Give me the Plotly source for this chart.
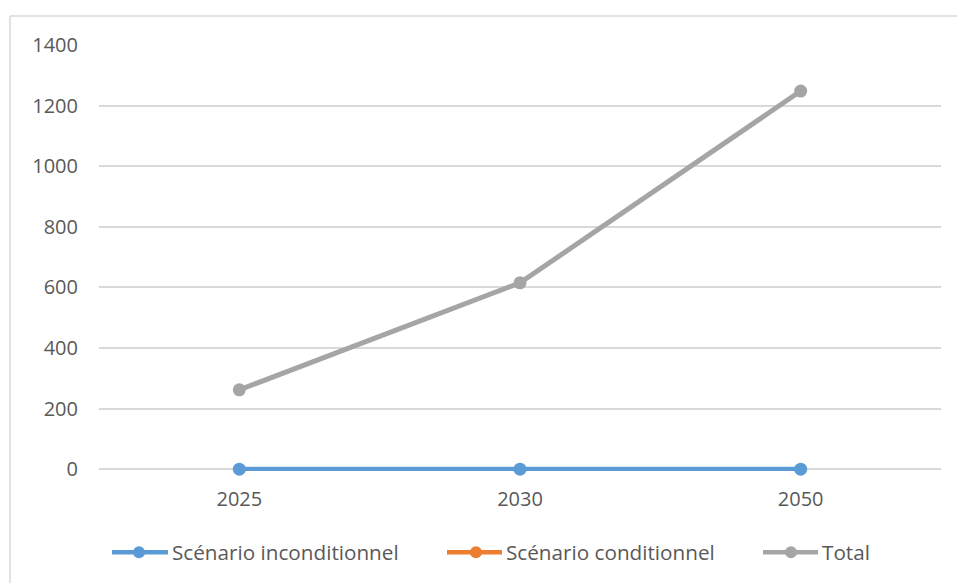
import plotly.graph_objects as go

years = ["2025", "2030", "2050"]
inconditionnel = [0, 0, 0]
conditionnel = [None, None, None]
total = [262, 615, 1248]
y_ticks = [0, 200, 400, 600, 800, 1000, 1200, 1400]

series_names = ["Scénario inconditionnel", "Scénario conditionnel", "Total"]
series_colors = ["#5B9BD5", "#ED7D31", "#A5A5A5"]
series_values = [inconditionnel, conditionnel, total]

font_family = "Open Sans, Noto Sans, sans-serif"
text_color = "#595959"

W, H = 957, 583
y_min, y_max = -6, 1400
left, right, top, y0_px = 99, 941, 45, 469
px_per_unit = (y0_px - top) / y_max
bottom = y0_px + (-y_min) * px_per_unit
pw, ph = right - left, bottom - top


def px_x(x):
    return (x - left) / pw


def px_y(y):
    return (bottom - y) / ph


fig = go.Figure()
for name, vals, color in zip(series_names, series_values, series_colors):
    fig.add_trace(go.Scatter(
        x=years, y=vals, name=name, mode="lines+markers",
        line=dict(color=color, width=5),
        marker=dict(color=color, size=13),
        cliponaxis=False, showlegend=False,
    ))

fig.update_layout(
    width=W, height=H,
    margin=dict(l=left, r=W - right, t=top, b=H - bottom),
    paper_bgcolor="white", plot_bgcolor="white",
    font=dict(family=font_family, size=20, color=text_color),
    showlegend=False,
    xaxis=dict(
        type="category", range=[-0.5, 2.5], showgrid=False, zeroline=False,
        showline=False, ticks="", tickfont=dict(size=20),
        ticklabelstandoff=14,
    ),
    yaxis=dict(
        range=[y_min, y_max], tickvals=y_ticks, showgrid=True,
        gridcolor="#D9D9D9", gridwidth=1.5, zeroline=False,
        showline=False, ticks="", tickfont=dict(size=20),
        ticklabelstandoff=20,
    ),
)

# legend row below the plot: line-with-marker key followed by its label
legend_y = 552
legend_keys = [(112, 168, 139), (447, 502, 476), (763, 818, 791)]
for (x0, x1, xc), name, color in zip(legend_keys, series_names, series_colors):
    fig.add_shape(type="line", xref="paper", yref="paper",
                  x0=px_x(x0), x1=px_x(x1), y0=px_y(legend_y), y1=px_y(legend_y),
                  line=dict(color=color, width=4.5))
    r = 6
    fig.add_shape(type="circle", xref="paper", yref="paper",
                  x0=px_x(xc - r), x1=px_x(xc + r),
                  y0=px_y(legend_y + r), y1=px_y(legend_y - r),
                  line=dict(width=0), fillcolor=color)
    fig.add_annotation(xref="paper", yref="paper", x=px_x(x1 + 2), y=px_y(legend_y),
                       text=name, showarrow=False, xanchor="left", yanchor="middle",
                       font=dict(size=20.7, color=text_color, family=font_family))

# outer chart frame (left and top edges visible)
fx0 = px_x(10)
fx1 = px_x(957.5)
fy_top = px_y(16)
fy_bot = px_y(590)
fig.add_shape(type="line", xref="paper", yref="paper",
              x0=fx0, x1=fx1, y0=fy_top, y1=fy_top,
              line=dict(color="#D9D9D9", width=1.5))
fig.add_shape(type="line", xref="paper", yref="paper",
              x0=fx0, x1=fx0, y0=fy_top, y1=fy_bot,
              line=dict(color="#D9D9D9", width=1.5))

fig.write_html("out.html")
